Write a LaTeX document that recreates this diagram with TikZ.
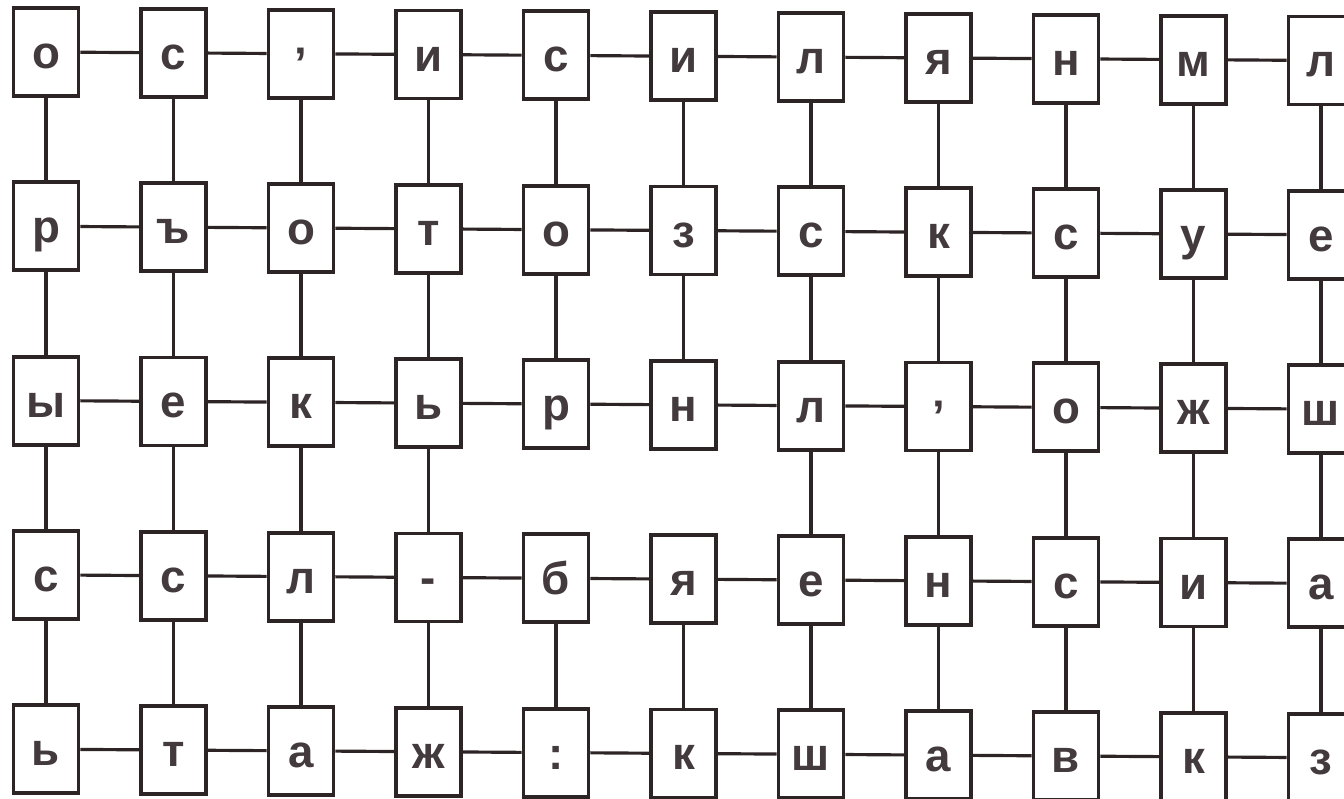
\documentclass[tikz,border=0pt]{standalone}
\usepackage{fontspec}
\setmainfont{Liberation Sans}
\definecolor{ink}{RGB}{45,36,38}
\newcommand{\apos}{\raisebox{-0.09cm}{’}}
\tikzset{
  cell/.style={draw=ink,line width=1.1pt,fill=white,minimum width=0.65cm,minimum height=0.88cm,inner sep=0pt,
    text height=0.33cm,text depth=0pt,font=\fontsize{13}{15}\selectfont\bfseries,text=ink!90},
  wire/.style={draw=ink,line width=0.9pt}
}
\begin{document}
\begin{tikzpicture}
\useasboundingbox (0,0) rectangle (13.44,7.99);

\foreach \t [count=\col] in {о,с,\apos,и,с,и,л,я,н,м,л}
  \node[cell] (r1c\col) at ({0.46+1.275*(\col-1)},{7.47-0.0085*(\col-1)}) {\t};
\foreach \t [count=\col] in {р,ъ,о,т,о,з,с,к,с,у,е}
  \node[cell] (r2c\col) at ({0.46+1.275*(\col-1)},{5.727-0.0085*(\col-1)}) {\t};
\foreach \t [count=\col] in {ы,е,к,ь,р,н,л,\apos,о,ж,ш}
  \node[cell] (r3c\col) at ({0.46+1.275*(\col-1)},{3.984-0.0085*(\col-1)}) {\t};
\foreach \t [count=\col] in {с,с,л,-,б,я,е,н,с,и,а}
  \node[cell] (r4c\col) at ({0.46+1.275*(\col-1)},{2.241-0.0085*(\col-1)}) {\t};
\foreach \t [count=\col] in {ь,т,а,ж,:,к,ш,а,в,к,з}
  \node[cell] (r5c\col) at ({0.46+1.275*(\col-1)},{0.498-0.0085*(\col-1)}) {\t};

\foreach \row in {1,2,3,4,5}
  \foreach \a/\b in {1/2,2/3,3/4,4/5,5/6,6/7,7/8,8/9,9/10,10/11}
    \draw[wire] (r\row c\a) -- (r\row c\b);

\foreach \a/\b in {1/2,2/3,4/5}
  \foreach \col in {1,...,11}
    \draw[wire] (r\a c\col) -- (r\b c\col);
\foreach \col in {1,2,3,4,7,8,9,10,11}
  \draw[wire] (r3c\col) -- (r4c\col);
\end{tikzpicture}
\end{document}
